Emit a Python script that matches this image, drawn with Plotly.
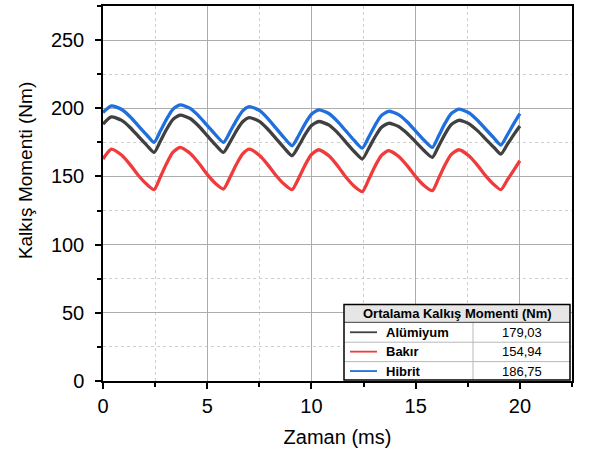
import plotly.graph_objects as go

# ---- data ----
time_ms = [0, 0.4, 0.9, 1.3, 1.7, 2.1, 2.45,
           2.75, 3.05, 3.35, 3.7, 4.2, 4.6, 5.0, 5.4, 5.78,
           6.1, 6.4, 6.7, 7.02, 7.5, 7.9, 8.3, 8.7, 9.07,
           9.4, 9.7, 10.0, 10.35, 10.85, 11.25, 11.65, 12.05, 12.44,
           12.75, 13.05, 13.35, 13.7, 14.2, 14.6, 15.0, 15.4, 15.8,
           16.1, 16.4, 16.7, 17.07, 17.55, 17.95, 18.35, 18.75, 19.09,
           19.4, 19.7, 20.0]

aluminyum = [188.4, 193.7, 191.1, 185.9, 179.3, 172.8, 167.6,
             175.8, 184.6, 191.7, 195.0, 192.3, 186.8, 179.9, 173.1, 167.6,
             175.3, 183.5, 190.1, 193.2, 190.4, 184.8, 177.8, 170.8, 165.2,
             172.7, 180.8, 187.3, 190.3, 187.6, 182.1, 175.2, 168.3, 162.8,
             170.7, 179.0, 185.9, 189.0, 186.5, 181.5, 175.3, 169.0, 164.0,
             172.2, 180.9, 187.9, 191.2, 188.7, 183.8, 177.6, 171.4, 166.4,
             173.5, 180.5, 187.0]

bakir = [162.8, 170.0, 165.5, 158.7, 150.7, 144.2, 140.3,
         149.6, 159.5, 167.6, 171.3, 166.7, 159.7, 151.5, 144.8, 140.8,
         149.6, 158.9, 166.5, 170.0, 165.5, 158.7, 150.7, 144.2, 140.3,
         149.1, 158.5, 166.1, 169.6, 165.0, 157.9, 149.6, 142.9, 138.9,
         147.9, 157.5, 165.3, 168.9, 164.5, 157.8, 149.9, 143.4, 139.6,
         148.6, 158.2, 166.0, 169.6, 165.2, 158.5, 150.6, 144.1, 140.3,
         147.5, 154.5, 161.5]

hibrit = [196.9, 201.8, 199.1, 193.8, 187.1, 180.4, 175.0,
          183.3, 192.0, 199.2, 202.5, 199.8, 194.3, 187.4, 180.5, 175.0,
          182.9, 191.2, 198.1, 201.2, 198.4, 192.6, 185.4, 178.2, 172.5,
          180.4, 188.8, 195.6, 198.8, 196.0, 190.4, 183.4, 176.4, 170.8,
          178.9, 187.5, 194.6, 197.8, 195.2, 189.9, 183.2, 176.6, 171.3,
          179.7, 188.7, 196.0, 199.3, 196.7, 191.4, 184.8, 178.3, 173.0,
          180.5, 188.5, 196.0]

series_names = ["Alümiyum", "Bakır", "Hibrit"]
series_values = [aluminyum, bakir, hibrit]
series_colors = ["#404040", "#ef3b3b", "#1f6fdc"]
mean_labels = ["179,03", "154,94", "186,75"]
table_title = "Ortalama Kalkış Momenti (Nm)"

x_title = "Zaman (ms)"
y_title = "Kalkış Momenti (Nm)"

# ---- figure ----
W, H = 589, 457
L, R, T, B = 103, 17, 4, 76
pw, ph = W - L - R, H - T - B

def px(xp):
    return (xp - L) / pw

def py(yp):
    return (H - B - yp) / ph

fig = go.Figure()
for name, vals, col in zip(series_names, series_values, series_colors):
    fig.add_trace(go.Scatter(x=time_ms, y=vals, name=name, mode="lines",
                             line=dict(color=col, width=3.3, shape="spline", smoothing=0.6),
                             showlegend=False))

font = "Liberation Sans, Arial, sans-serif"

fig.update_layout(
    width=W, height=H,
    margin=dict(l=L, r=R, t=T, b=B),
    paper_bgcolor="white", plot_bgcolor="white",
    font=dict(family=font, color="black"),
    xaxis=dict(range=[0, 22.5], dtick=5, tick0=0, ticks="outside", ticklen=6, tickwidth=1.5,
               tickcolor="black", showline=True, linecolor="black", linewidth=1.5, mirror=True,
               showgrid=True, gridcolor="#acacac", gridwidth=1, zeroline=False,
               tickfont=dict(size=20), title=dict(text=x_title, font=dict(size=20), standoff=14),
               minor=dict(dtick=2.5, ticks="outside", ticklen=4, tickcolor="black",
                          showgrid=True, gridcolor="#cfcfcf", griddash="dot", gridwidth=1)),
    yaxis=dict(range=[0, 275], dtick=50, tick0=0, ticks="outside", ticklen=6, tickwidth=1.5,
               tickcolor="black", showline=True, linecolor="black", linewidth=1.5, mirror=True,
               showgrid=True, gridcolor="#acacac", gridwidth=1, zeroline=False,
               ticklabelstandoff=7,
               tickfont=dict(size=20),
               minor=dict(dtick=25, ticks="outside", ticklen=4, tickcolor="black",
                          showgrid=True, gridcolor="#cfcfcf", griddash="dot", gridwidth=1)),
)

# ---- table-style legend ----
bx0, bx1, by0, by1 = 344, 570, 304, 380
hdr_bottom = 322
row_lines = [342, 361.5]
divider = 473
row_centers = [332, 351.5, 371]

shapes = []
shapes.append(dict(type="rect", xref="paper", yref="paper", x0=px(bx0), x1=px(bx1),
                   y0=py(by1), y1=py(by0), fillcolor="white", line=dict(width=0), layer="above"))
shapes.append(dict(type="rect", xref="paper", yref="paper", x0=px(bx0), x1=px(bx1),
                   y0=py(hdr_bottom), y1=py(by0), fillcolor="#e6e6e6", line=dict(width=0), layer="above"))
for rl in row_lines:
    shapes.append(dict(type="line", xref="paper", yref="paper", x0=px(bx0), x1=px(bx1),
                       y0=py(rl), y1=py(rl), line=dict(color="#b8b8b8", width=1), layer="above"))
shapes.append(dict(type="line", xref="paper", yref="paper", x0=px(divider), x1=px(divider),
                   y0=py(hdr_bottom), y1=py(by1), line=dict(color="#b8b8b8", width=1), layer="above"))
shapes.append(dict(type="line", xref="paper", yref="paper", x0=px(bx0), x1=px(bx1),
                   y0=py(hdr_bottom), y1=py(hdr_bottom), line=dict(color="#404040", width=1), layer="above"))
shapes.append(dict(type="rect", xref="paper", yref="paper", x0=px(bx0), x1=px(bx1),
                   y0=py(by1), y1=py(by0), line=dict(color="black", width=1.5), layer="above"))

annotations = [dict(text="<b>" + table_title + "</b>", xref="paper", yref="paper",
                    x=px((bx0 + bx1) / 2), y=py((by0 + hdr_bottom) / 2), showarrow=False,
                    font=dict(size=13, family=font), xanchor="center", yanchor="middle")]
for name, col, lab, rc in zip(series_names, series_colors, mean_labels, row_centers):
    shapes.append(dict(type="line", xref="paper", yref="paper", x0=px(350), x1=px(377),
                       y0=py(rc), y1=py(rc), line=dict(color=col, width=1.8), layer="above"))
    annotations.append(dict(text="<b>" + name + "</b>", xref="paper", yref="paper",
                            x=px(384), y=py(rc), showarrow=False, xanchor="left", yanchor="middle",
                            font=dict(size=13, family=font)))
    annotations.append(dict(text=lab, xref="paper", yref="paper",
                            x=px(522), y=py(rc), showarrow=False, xanchor="center", yanchor="middle",
                            font=dict(size=13, family=font)))

# y-axis title (placed as in the reference, slightly above centre)
annotations.append(dict(text=y_title, xref="paper", yref="paper", x=px(25), y=py(170),
                        showarrow=False, textangle=-90, xanchor="center", yanchor="middle",
                        font=dict(size=19, family=font)))

fig.update_layout(shapes=shapes, annotations=annotations)
fig.write_html("out.html")
